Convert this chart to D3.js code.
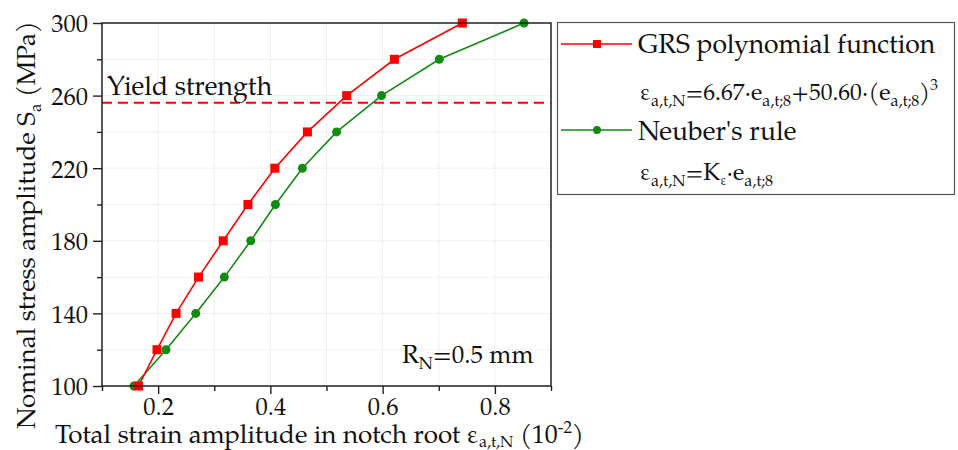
<!DOCTYPE html>
<html>
<head>
<meta charset="utf-8">
<script src="https://cdn.jsdelivr.net/npm/d3@7"></script>
<style>
  body { margin: 0; background: #fff; }
  svg text { font-family: "TeX Gyre Pagella", "Liberation Serif", serif; fill: #111; }
</style>
</head>
<body>
<svg id="chart" width="958" height="450"></svg>
<script>
// stress levels (MPa) and notch-root strain for each method (10^-2)
let stressLevels = [100, 120, 140, 160, 180, 200, 220, 240, 260, 280, 300];
let grsStrain    = [0.165, 0.198, 0.232, 0.272, 0.316, 0.360, 0.408, 0.466, 0.536, 0.621, 0.742];
let neuberStrain = [0.157, 0.214, 0.267, 0.318, 0.365, 0.409, 0.457, 0.518, 0.598, 0.701, 0.852];
let yieldStrength = 256;

let xTicks = [0.2, 0.4, 0.6, 0.8];
let xMinorTicks = [0.1, 0.2, 0.3, 0.4, 0.5, 0.6, 0.7, 0.8, 0.9];
let yTicks = [100, 140, 180, 220, 260, 300];
let yMinorTicks = [100, 120, 140, 160, 180, 200, 220, 240, 260, 280, 300];

let svg = d3.select("#chart");

let margin = {left: 102, right: 551, top: 23, bottom: 386};

let xScale = d3.scaleLinear().domain([0.1, 0.9]).range([margin.left, margin.right]);
let yScale = d3.scaleLinear().domain([100, 300]).range([margin.bottom, margin.top]);

let red = "#ff0000";
let green = "#138a13";

// faint grid
let grid = svg.append("g");
grid.selectAll(".gx").data(xMinorTicks).enter().append("line")
    .attr("x1", d => xScale(d)).attr("x2", d => xScale(d))
    .attr("y1", margin.top).attr("y2", margin.bottom)
    .attr("stroke", "#efefef").attr("stroke-width", 1);
grid.selectAll(".gy").data(yMinorTicks).enter().append("line")
    .attr("x1", margin.left).attr("x2", margin.right)
    .attr("y1", d => yScale(d)).attr("y2", d => yScale(d))
    .attr("stroke", "#efefef").attr("stroke-width", 1);

// Axes:
let xAxis = d3.axisBottom(xScale).tickValues(xTicks).tickFormat(d3.format(".1f")).tickSize(8).tickSizeOuter(0);
let xMinor = d3.axisBottom(xScale).tickValues(xMinorTicks.filter(d => !xTicks.includes(d))).tickFormat("").tickSize(5).tickSizeOuter(0);
let yAxis = d3.axisLeft(yScale).tickValues(yTicks).tickSize(9).tickSizeOuter(0);
let yMinor = d3.axisLeft(yScale).tickValues(yMinorTicks.filter(d => !yTicks.includes(d))).tickFormat("").tickSize(5).tickSizeOuter(0);

function styleAxis(g){
  g.select(".domain").remove();
  g.attr("font-family", null);
  g.selectAll("line").attr("stroke", "#222").attr("stroke-width", 1.4);
  g.selectAll("text").attr("font-size", 24.5).attr("fill", "#111");
}

svg.append("g").attr("transform", `translate(0, ${margin.bottom})`).call(xAxis).call(styleAxis)
   .selectAll("text").attr("y", 9).attr("dy", "0.8em");
svg.append("g").attr("transform", `translate(0, ${margin.bottom})`).call(xMinor).call(styleAxis);
svg.append("g").attr("transform", `translate(${margin.left}, 0)`).call(yAxis).call(styleAxis)
   .selectAll("text").attr("x", -14).attr("dy", "0.36em");
svg.append("g").attr("transform", `translate(${margin.left}, 0)`).call(yMinor).call(styleAxis);

// yield strength line
svg.append("line")
   .attr("x1", margin.left).attr("x2", margin.right)
   .attr("y1", yScale(yieldStrength)).attr("y2", yScale(yieldStrength))
   .attr("stroke", red).attr("stroke-width", 2).attr("stroke-dasharray", "10,6");

svg.append("text").attr("x", 107).attr("y", 95).attr("font-size", 26.5).text("Yield strength");

// series
let lineGen = (xs) => d3.line()
  .x((d, i) => xScale(xs[i]))
  .y(d => yScale(d));

svg.append("path").datum(stressLevels)
   .attr("d", lineGen(neuberStrain))
   .attr("fill", "none").attr("stroke", green).attr("stroke-width", 1.6);
svg.append("path").datum(stressLevels)
   .attr("d", lineGen(grsStrain))
   .attr("fill", "none").attr("stroke", red).attr("stroke-width", 1.6);

svg.selectAll(".gdot").data(stressLevels).enter().append("circle")
   .attr("cx", (d, i) => xScale(neuberStrain[i])).attr("cy", d => yScale(d))
   .attr("r", 4.5).attr("fill", green);
svg.selectAll(".rsq").data(stressLevels).enter().append("rect")
   .attr("x", (d, i) => xScale(grsStrain[i]) - 4.5).attr("y", d => yScale(d) - 4.5)
   .attr("width", 9).attr("height", 9).attr("fill", red);

// frame
svg.append("rect")
   .attr("x", margin.left).attr("y", margin.top)
   .attr("width", margin.right - margin.left).attr("height", margin.bottom - margin.top)
   .attr("fill", "none").attr("stroke", "#222").attr("stroke-width", 1.5);

// R_N annotation
let rn = svg.append("text").attr("x", 402).attr("y", 363).attr("font-size", 25);
rn.append("tspan").text("R");
rn.append("tspan").attr("dy", 6).attr("font-size", 17).text("N");
rn.append("tspan").attr("dy", -6).text("=0.5 mm");

// axis titles
let yt = svg.append("text")
  .attr("transform", "translate(35, 225) rotate(-90)")
  .attr("text-anchor", "middle").attr("font-size", 26);
yt.append("tspan").text("Nominal stress amplitude S");
yt.append("tspan").attr("dy", 6).attr("font-size", 17).text("a");
yt.append("tspan").attr("dy", -6).text(" (MPa)");

let xt = svg.append("text").attr("x", 55).attr("y", 443).attr("font-size", 26);
xt.append("tspan").text("Total strain amplitude in notch root ε");
xt.append("tspan").attr("dy", 4).attr("font-size", 16).text("a,t,N");
xt.append("tspan").attr("dy", -4).text(" (10");
xt.append("tspan").attr("dy", -10).attr("font-size", 17).text("-2");
xt.append("tspan").attr("dy", 10).text(")");

// legend
let legend = svg.append("g");
legend.append("rect").attr("x", 557.5).attr("y", 22.5).attr("width", 397).attr("height", 172)
      .attr("fill", "#fff").attr("stroke", "#555").attr("stroke-width", 1.2);

legend.append("line").attr("x1", 561).attr("x2", 632).attr("y1", 44).attr("y2", 44)
      .attr("stroke", red).attr("stroke-width", 1.6);
legend.append("rect").attr("x", 593).attr("y", 40).attr("width", 8).attr("height", 8).attr("fill", red);
legend.append("text").attr("x", 638).attr("y", 53).attr("font-size", 26.5).text("GRS polynomial function");

let f1 = legend.append("text").attr("x", 640).attr("y", 100).attr("font-size", 23.5);
f1.append("tspan").text("ε");
f1.append("tspan").attr("dy", 6).attr("font-size", 16).text("a,t,N");
f1.append("tspan").attr("dy", -6).text("=6.67·e");
f1.append("tspan").attr("dy", 6).attr("font-size", 16).text("a,t;8");
f1.append("tspan").attr("dy", -6).text("+50.60·(e");
f1.append("tspan").attr("dy", 6).attr("font-size", 16).text("a,t;8");
f1.append("tspan").attr("dy", -6).text(")");
f1.append("tspan").attr("dy", -10).attr("font-size", 16).text("3");

legend.append("line").attr("x1", 561).attr("x2", 632).attr("y1", 130).attr("y2", 130)
      .attr("stroke", green).attr("stroke-width", 1.6);
legend.append("circle").attr("cx", 597).attr("cy", 130).attr("r", 4).attr("fill", green);
legend.append("text").attr("x", 638).attr("y", 140).attr("font-size", 26.5).text("Neuber's rule");

let f2 = legend.append("text").attr("x", 640).attr("y", 180).attr("font-size", 23.5);
f2.append("tspan").text("ε");
f2.append("tspan").attr("dy", 6).attr("font-size", 16).text("a,t,N");
f2.append("tspan").attr("dy", -6).text("=K");
f2.append("tspan").attr("dy", 5).attr("font-size", 13).text("ε");
f2.append("tspan").attr("dy", -5).text("·e");
f2.append("tspan").attr("dy", 6).attr("font-size", 16).text("a,t;8");
</script>
</body>
</html>
